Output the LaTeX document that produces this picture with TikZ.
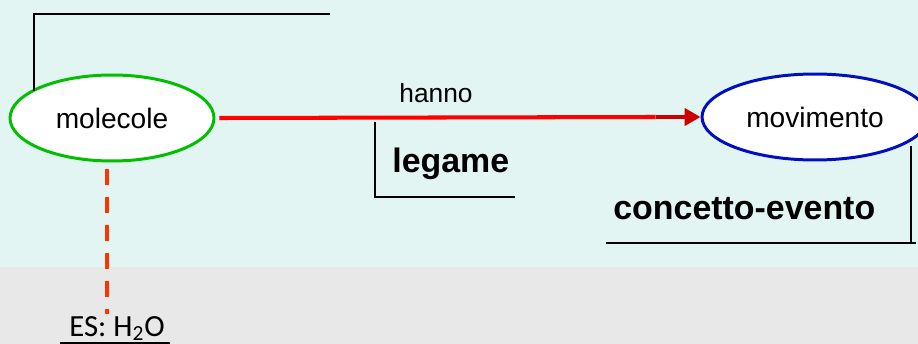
\documentclass[tikz,border=0pt]{standalone}
\usepackage{fontspec}
\setmainfont{Liberation Sans}
\newfontfamily\esfont{Carlito}
\usetikzlibrary{shapes.geometric}
\usetikzlibrary{positioning}
\usetikzlibrary{calc}
\usetikzlibrary{arrows.meta}
\definecolor{bgtop}{HTML}{E2F5F3}
\definecolor{bgbottom}{HTML}{E8E8E8}
\definecolor{conceptgreen}{HTML}{00BF00}
\definecolor{conceptblue}{HTML}{0010C0}
\definecolor{linkred}{HTML}{FF0000}
\definecolor{tipred}{HTML}{CC0000}
\definecolor{dashred}{HTML}{FF3300}

\begin{document}
\begin{tikzpicture}[
    x=0.02cm, y=-0.02cm,
    concept/.style={ellipse, draw, line width=1.7pt, fill=white, minimum width=4.08cm, minimum height=1.72cm, inner sep=0pt, font=\fontsize{16}{18}\selectfont},
    tag/.style={font=\fontsize{19.3}{22}\selectfont\bfseries, inner sep=0pt},
    frame/.style={draw=black, line width=0.9pt},
    link/.style={draw=linkred, line width=2.3pt},
    linktip/.style={draw=tipred, fill=tipred, line width=2.8pt, -{Triangle[length=0.32cm, width=0.34cm]}},
    example/.style={draw=dashred, line width=2.2pt, dash pattern=on 0.32cm off 0.24cm}
]
\useasboundingbox (0,0) rectangle (918,344);
\fill[bgtop] (0,0) rectangle (918,267);
\fill[bgbottom] (0,267) rectangle (918,344);

% concetti
\node[concept, draw=conceptgreen] (mol) at (112,118) {molecole};
\node[concept, draw=conceptblue, minimum width=4.52cm] (mov) at (815,117) {movimento};

% legame
\draw[link] ([xshift=0.08cm]mol.east) -- ([xshift=-0.9cm]mov.west);
\draw[linktip] ([xshift=-0.9cm]mov.west) -- (mov.west);
\node[font=\fontsize{15}{17}\selectfont, inner sep=0pt, anchor=base west] (hanno) at (399,103) {hanno};

% etichette
\node[tag, anchor=base west] (legame) at (392,173) {legame};
\node[tag, anchor=base west] (evento) at (613,219) {concetto-evento};
\draw[frame] (34,91) -- (34,14) -- (330,14);
\draw[frame] (375,122) -- (375,197) -- (515,197);
\draw[frame] (911,146) -- (911,242);
\draw[frame] (606,243) -- (916,243);

% esempio
\node[font=\esfont\fontsize{17.5}{20}\selectfont, inner sep=0pt, anchor=base] (es) at (117,336) {ES: H\textsubscript{2}O};
\draw[example] ([xshift=-0.1cm, yshift=-0.14cm]mol.south) -- ([xshift=-0.1cm, yshift=0.04cm]mol.south |- es.north);
\draw[frame, line width=0.8pt] ($(es.base west)+(-9,7)$) -- ($(es.base east)+(5,7)$);
\end{tikzpicture}
\end{document}
